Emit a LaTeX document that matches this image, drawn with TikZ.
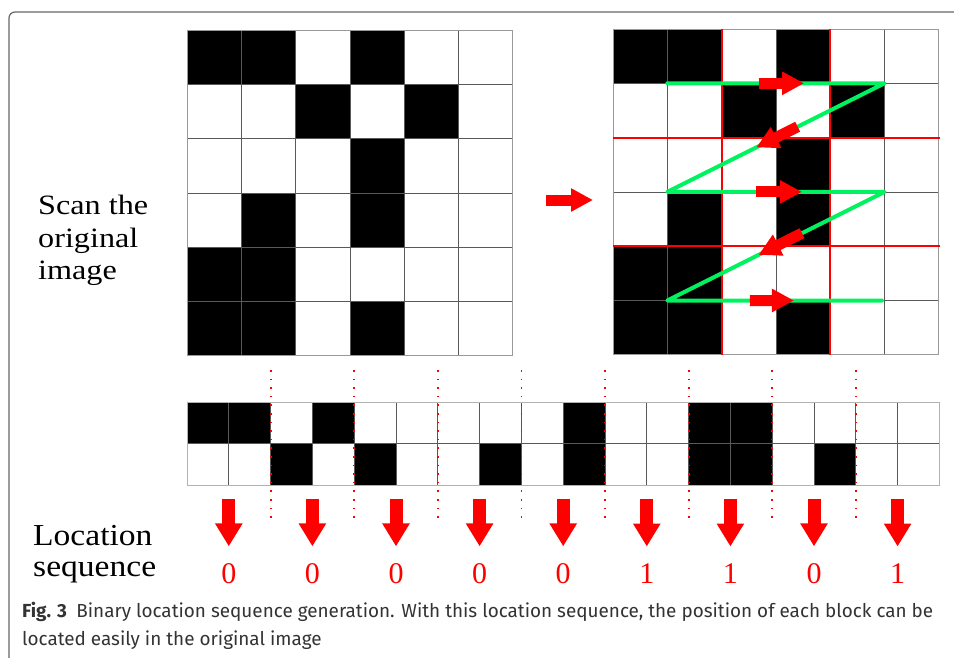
\documentclass[tikz,border=0pt]{standalone}
\usepackage{fontspec}
\setmainfont{Liberation Serif}
\newfontfamily\capfont{Fira Sans}
\newfontfamily\scanfont[FakeStretch=1.15]{Liberation Serif}
\newfontfamily\locfont[FakeStretch=1.1]{Liberation Serif}
\usetikzlibrary{arrows.meta}
\usetikzlibrary{calc}
\definecolor{mred}{rgb}{1, 0, 0}
\definecolor{mgreen}{rgb}{0.0, 0.95, 0.38}
\definecolor{mgray}{rgb}{0.35, 0.35, 0.35}
\definecolor{mframe}{rgb}{0.4, 0.4, 0.4}
\tikzset{cell/.style = {mgray, line width=0.8pt},
         blkarrow/.style = {mred, line width=11pt,
                            -{Triangle[width=22pt, length=22pt]}},
         bigarrow/.style = {mred, line width=13pt,
                            -{Triangle[width=26pt, length=23pt]}},
         digit/.style = {anchor=base, inner sep=0pt, text=mred,
                         font=\fontsize{30}{30}\selectfont}}
\newcommand{\blackcells}{0/0,1/0,3/0,2/1,4/1,3/2,1/3,3/3,0/4,1/4,0/5,1/5,3/5}
\newcommand{\stripcells}{0/0,1/0,3/0,9/0,12/0,13/0,2/1,4/1,7/1,9/1,12/1,13/1,15/1}

\begin{document}
\begin{tikzpicture}[x=1pt, y=-1pt]
    \useasboundingbox (0, 0) rectangle (954, 657);
    \draw [mframe, line width=1.2pt, rounded corners=6pt] (9, 660) -- (9, 12) -- (957, 12);

    \foreach \ox/\oy in {187/30, 613/29} {
        \foreach \c/\r in \blackcells
            \fill (\ox+\c*54.3, \oy+\r*54.3) rectangle ++(54.3, 54.3);
        \foreach \i in {1, ..., 5} {
            \draw [cell] (\ox+\i*54.3, \oy) -- ++(0, 325.8);
            \draw [cell] (\ox, \oy+\i*54.3) -- ++(325.8, 0);
        }
        \draw [cell, black!40] (\ox, \oy) rectangle ++(325.8, 325.8);
    }
    \foreach \i in {2, 4} {
        \draw [mred, line width=2pt] (613+\i*54.3, 29) -- ++(0, 325.8);
        \draw [mred, line width=2pt] (613, 29+\i*54.3) -- ++(327, 0);
    }

    \coordinate (z1) at (667.3, 83.3);
    \coordinate (z2) at (884.5, 83.3);
    \coordinate (z3) at (667.3, 191.9);
    \coordinate (z4) at (884.5, 191.9);
    \coordinate (z5) at (667.3, 300.5);
    \coordinate (z6) at (882, 300.5);
    \draw [mgreen, line width=4pt, line cap=round, line join=round]
        (z1) -- (z2) -- (z3) -- (z4) -- (z5) -- (z6);
    \draw [blkarrow] ($(z1)!0.42!(z2)$) -- ($(z1)!0.63!(z2)$);
    \draw [blkarrow] ($(z2)!0.40!(z3)$) -- ($(z2)!0.59!(z3)$);
    \draw [blkarrow] ($(z3)!0.41!(z4)$) -- ($(z3)!0.62!(z4)$);
    \draw [blkarrow] ($(z4)!0.38!(z5)$) -- ($(z4)!0.58!(z5)$);
    \draw [blkarrow] ($(z5)!0.385!(z6)$) -- ($(z5)!0.59!(z6)$);

    \coordinate (m1) at (546, 200);
    \coordinate (m2) at (593, 200);
    \draw [blkarrow] (m1) -- (m2);

    \foreach \c/\r in \stripcells
        \fill (187+\c*41.8, 402+\r*41.5) rectangle ++(41.8, 41.5);
    \foreach \i in {1, ..., 17}
        \draw [cell] (187+\i*41.8, 402) -- ++(0, 83);
    \draw [cell] (187, 443.5) -- ++(752.4, 0);
    \draw [cell, black!30] (187, 402) rectangle ++(752.4, 83);
    \foreach \k in {1, ..., 8}
        \draw [mred, line width=1.8pt, dash pattern=on 1.6pt off 7pt]
            (187+\k*83.6, 370) -- ++(0, 152);

    \foreach \v [count=\i] in {0, 0, 0, 0, 0, 1, 1, 0, 1} {
        \coordinate (a\i) at (145.2+\i*83.6, 499);
        \node [digit] (d\i) at (145.2+\i*83.6, 583) {\v};
        \draw [bigarrow, shorten >=16.5pt] (a\i) -- (d\i.north);
    }

    \node [anchor=north west, align=left, inner sep=0pt,
           font=\scanfont\fontsize{28}{32.5}\selectfont] (scan) at (38, 195) {Scan the\\original\\image};
    \node [anchor=north west, align=left, inner sep=0pt,
           font=\locfont\fontsize{30.5}{31}\selectfont] (loc) at (33, 525) {Location\\sequence};
    \node [anchor=north west, align=left, inner sep=0pt, text=black!80,
           font=\capfont\fontsize{18.9}{28}\selectfont] (cap) at (22, 602)
        {\textbf{Fig. 3}\enspace Binary location sequence generation. With this location sequence, the position of each block can be\\
         located easily in the original image};
\end{tikzpicture}
\end{document}
